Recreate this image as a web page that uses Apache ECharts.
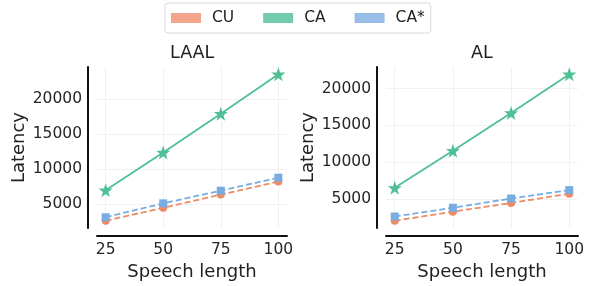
<!DOCTYPE html>
<html>
<head>
<meta charset="utf-8">
<script src="https://cdn.jsdelivr.net/npm/echarts@6/dist/echarts.min.js"></script>
<style>
  html, body { margin: 0; padding: 0; background: #fff; }
  #chart { width: 589px; height: 286px; }
</style>
</head>
<body>
<div id="chart"></div>
<script>
// speech length on the x axis
const lengths = [25, 50, 75, 100]
const xTicks = [25, 50, 75, 100]
const yTicks = [5000, 10000, 15000, 20000]

// LAAL panel
const laalCU = [2590, 4450, 6330, 8190]
const laalCA = [6940, 12340, 17880, 23500]
const laalCAstar = [3100, 5080, 6890, 8740]

// AL panel
const alCU = [2010, 3250, 4430, 5700]
const alCA = [6490, 11540, 16670, 21930]
const alCAstar = [2590, 3780, 5040, 6180]

const colors = { CU: '#ef8a62', CA: '#4fc096', 'CA*': '#78ade2' }
const patchColors = { CU: '#f3a58b', CA: '#72cbad', 'CA*': '#98bde6' }
const font = 'DejaVu Sans'

function pairs(vals) {
  return lengths.map((x, i) => [x, vals[i]])
}

function xAxis(idx) {
  return {
    gridIndex: idx,
    type: 'value',
    min: 21.25,
    max: 103.75,
    offset: 8,
    name: 'Speech length',
    nameLocation: 'middle',
    nameGap: 24,
    nameTextStyle: { fontFamily: font, fontSize: 18, color: '#222' },
    axisLine: { show: true, lineStyle: { color: '#111', width: 2 } },
    axisTick: { show: false, customValues: xTicks },
    axisLabel: { customValues: xTicks, fontFamily: font, fontSize: 15.5, color: '#262626', margin: 6 },
    splitLine: { show: true, lineStyle: { color: '#f1f1f1', width: 1 } }
  }
}

function yAxis(idx, min, max) {
  return {
    gridIndex: idx,
    type: 'value',
    min: min,
    max: max,
    offset: 9,
    name: 'Latency',
    nameLocation: 'middle',
    nameGap: 49,
    nameTextStyle: { fontFamily: font, fontSize: 18, color: '#222' },
    axisLine: { show: true, lineStyle: { color: '#111', width: 2 } },
    axisTick: { show: false, customValues: yTicks },
    axisLabel: { customValues: yTicks, formatter: v => String(v), fontFamily: font, fontSize: 15.5, color: '#262626', margin: 6 },
    splitLine: { show: true, lineStyle: { color: '#f1f1f1', width: 1 } }
  }
}

function line(name, idx, vals) {
  const dashed = name !== 'CA'
  return {
    name: name,
    type: 'line',
    xAxisIndex: idx,
    yAxisIndex: idx,
    data: pairs(vals),
    symbol: name === 'CU' ? 'circle' : (name === 'CA' ? 'path://M50,0 L61.8,35.1 L98.9,35.1 L69.1,57.3 L80.3,92.7 L50,70.8 L19.7,92.7 L30.9,57.3 L1.1,35.1 L38.2,35.1 Z' : 'rect'),
    symbolSize: name === 'CA' ? 14 : 8,
    lineStyle: { color: colors[name], width: 1.8, type: dashed ? [6, 3] : 'solid' },
    itemStyle: { color: colors[name] },
    animation: false
  }
}

const chart = echarts.init(document.getElementById('chart'), null, { renderer: 'canvas' })
chart.setOption({
  animation: false,
  textStyle: { fontFamily: font },
  title: [
    { text: 'LAAL', left: 165, top: 39, textStyle: { fontFamily: font, fontSize: 17.5, fontWeight: 'normal', color: '#222' } },
    { text: 'AL', left: 466, top: 39, textStyle: { fontFamily: font, fontSize: 17.5, fontWeight: 'normal', color: '#222' } }
  ],
  legend: {
    left: 165,
    top: 3,
    padding: [7, 6, 7, 6],
    borderColor: '#d8d8d8',
    borderWidth: 1,
    borderRadius: 3,
    itemWidth: 30,
    itemHeight: 10,
    itemGap: 29,
    textStyle: { fontFamily: font, fontSize: 15.5, color: '#222', padding: [0, 0, 0, 6] },
    data: ['CU', 'CA', 'CA*'].map(n => ({ name: n, icon: 'rect', itemStyle: { color: patchColors[n] } }))
  },
  grid: [
    { left: 97, top: 67, width: 190, height: 167 },
    { left: 386, top: 67, width: 192, height: 167 }
  ],
  xAxis: [xAxis(0), xAxis(1)],
  yAxis: [yAxis(0, 1545, 24545), yAxis(1, 1014, 22926)],
  series: [
    line('CU', 0, laalCU),
    line('CA', 0, laalCA),
    line('CA*', 0, laalCAstar),
    line('CU', 1, alCU),
    line('CA', 1, alCA),
    line('CA*', 1, alCAstar)
  ]
})
</script>
</body>
</html>
